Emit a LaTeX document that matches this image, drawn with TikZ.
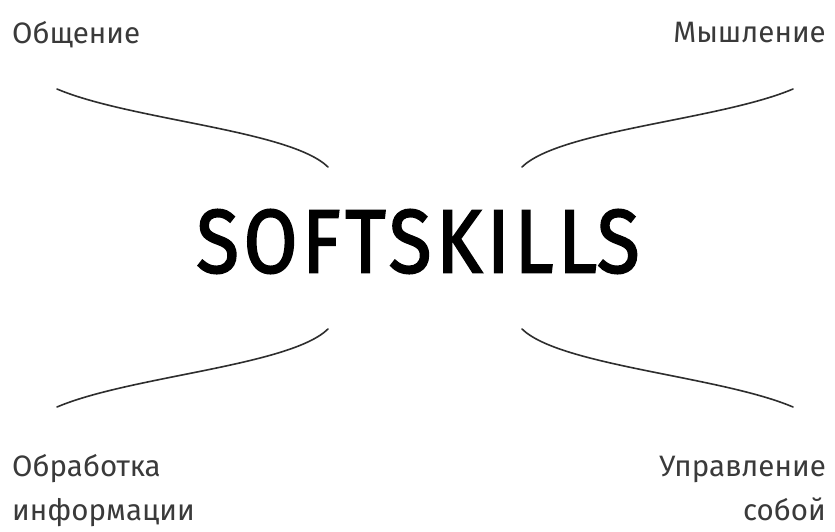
\documentclass[tikz,border=0pt]{standalone}
\usepackage{fontspec}
\setmainfont{Fira Sans}
\newfontfamily\titlefont[LetterSpace=6,FakeBold=2.2]{Fira Sans}
\definecolor{labelgray}{HTML}{3A3A3A}
\definecolor{curvegray}{HTML}{2E2E2E}
\begin{document}
\begin{tikzpicture}[x=1pt,y=-1pt,
  label/.style={inner sep=0pt,text=labelgray,font=\fontsize{29.5}{34}\selectfont},
  title/.style={inner sep=0pt,text=black},
  branch/.style={draw=curvegray,line width=1.6pt,line cap=round}]
\useasboundingbox[fill=white] (0,0) rectangle (835,532);

% centre title
\node[title] (center) at (418,241.5) {\resizebox{443pt}{63pt}{\titlefont SOFTSKILL\addfontfeatures{LetterSpace=0}S}};

% labels
\node[label,anchor=base west] (comm) at (12,44) {Общение};
\node[label,anchor=base east] (think) at (826,43) {Мышление};
\node[label,anchor=base west] (info1) at (12,476) {Обработка};
\node[label,anchor=base west] (info2) at (12,520) {информации};
\node[label,anchor=base east] (self1) at (826,476) {Управление};
\node[label,anchor=base east] (self2) at (826,520) {собой};

% branch end points
\coordinate (tlO) at (57,89);   \coordinate (tlI) at (328,167);
\coordinate (trO) at (793,89);  \coordinate (trI) at (522,167);
\coordinate (blO) at (57,407);  \coordinate (blI) at (328,329);
\coordinate (brO) at (793,407); \coordinate (brI) at (522,329);

% branches
\draw[branch] (tlO) .. controls (130,120) and (290,130) .. (tlI);
\draw[branch] (trO) .. controls (720,120) and (560,130) .. (trI);
\draw[branch] (blO) .. controls (130,376) and (290,366) .. (blI);
\draw[branch] (brO) .. controls (720,376) and (560,366) .. (brI);
\end{tikzpicture}
\end{document}
